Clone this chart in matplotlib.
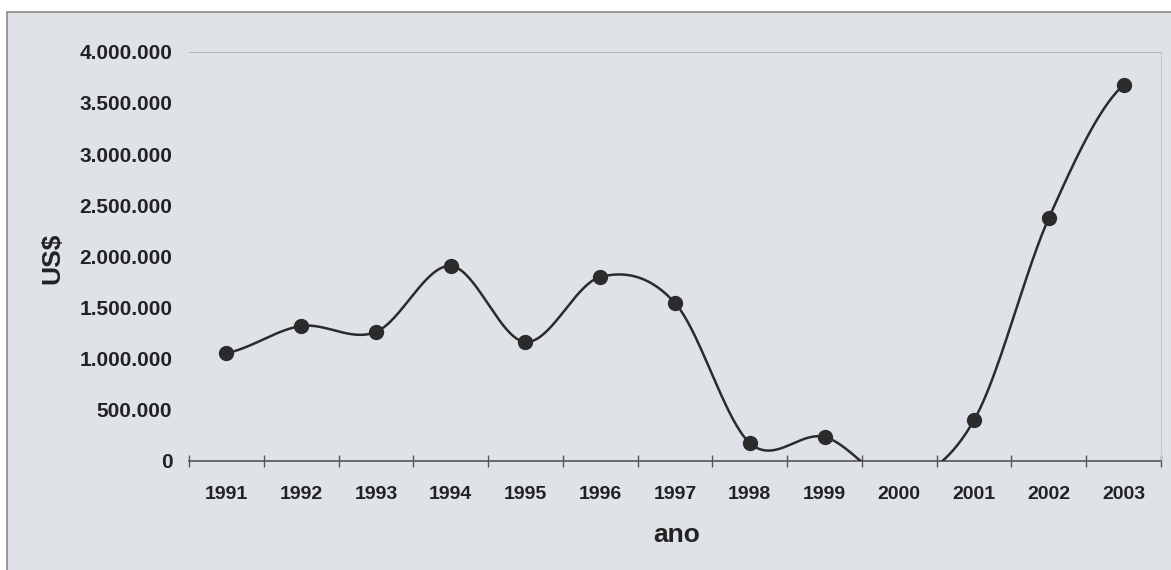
import numpy as np
import matplotlib
matplotlib.use('Agg')
import matplotlib.pyplot as plt
from matplotlib.patches import Rectangle
from matplotlib.ticker import FuncFormatter

years = ['1991', '1992', '1993', '1994', '1995', '1996', '1997',
         '1998', '1999', '2000', '2001', '2002', '2003']
values = [1055000, 1319000, 1261000, 1906000, 1163000, 1798000, 1544000,
          176000, 235000, -190000, 400000, 2375000, 3675000]
y_ticks = [0, 500000, 1000000, 1500000, 2000000, 2500000, 3000000, 3500000, 4000000]

bg = '#dfe3e8'
ink = '#2b2b2b'

plt.rcParams['font.family'] = ['Liberation Sans', 'DejaVu Sans']
plt.rcParams['font.weight'] = 'bold'


def smooth(y, n=40):
    # catmull-rom curve through the points, like the office "smoothed line"
    p = np.concatenate([[y[0]], y, [y[-1]]])
    xs, ys = [], []
    for i in range(len(y) - 1):
        p0, p1, p2, p3 = p[i], p[i + 1], p[i + 2], p[i + 3]
        t = np.linspace(0, 1, n, endpoint=False)
        seg = 0.5 * (2 * p1 + (-p0 + p2) * t
                     + (2 * p0 - 5 * p1 + 4 * p2 - p3) * t ** 2
                     + (-p0 + 3 * p1 - 3 * p2 + p3) * t ** 3)
        xs.append(i + t)
        ys.append(seg)
    xs.append([len(y) - 1])
    ys.append([y[-1]])
    return np.concatenate(xs), np.concatenate(ys)


fig = plt.figure(figsize=(11.71, 5.70), dpi=100)
fig.patch.set_facecolor('white')
fig.patches.append(Rectangle((7 / 1171, -0.05), 1.1, 1 - 12 / 570 + 0.05,
                             transform=fig.transFigure, facecolor=bg,
                             edgecolor='#8a8a8a', linewidth=1.2, zorder=-5))

ax = fig.add_axes([189 / 1171, 1 - 461 / 570, (1161 - 189) / 1171, (461 - 51.7) / 570])
ax.set_zorder(2)
ax.set_facecolor('none')

x = np.arange(len(years))
sx, sy = smooth(np.array(values, dtype=float))
ax.plot(sx, sy, color=ink, lw=1.8, zorder=3)
ax.plot(x, values, 'o', color=ink, markersize=10, zorder=4)

ax.set_xlim(-0.5, len(years) - 0.5)
ax.set_ylim(0, 4000000)

ax.set_xticks(np.arange(len(years) + 1) - 0.5)
ax.set_xticklabels([])
ax.set_xticks(x, minor=True)
ax.set_xticklabels(years, minor=True, fontsize=14, fontweight='bold', color='#222222')
ax.tick_params(axis='x', which='major', direction='inout', length=8, width=1, color='#555555')
ax.tick_params(axis='x', which='minor', length=0, pad=18)

ax.set_yticks(y_ticks)
ax.yaxis.set_major_formatter(FuncFormatter(lambda v, p: f'{int(v):,}'.replace(',', '.')))
ax.tick_params(axis='y', length=0, pad=12, labelsize=15, labelcolor='#222222')
for lab in ax.get_yticklabels():
    lab.set_fontweight('bold')

ax.spines['left'].set_visible(False)
ax.spines['top'].set_color('#b8bcc0')
ax.spines['top'].set_linewidth(0.8)
ax.spines['right'].set_color('#c4c8cc')
ax.spines['right'].set_linewidth(0.8)
ax.spines['bottom'].set_color('#555555')
ax.spines['bottom'].set_linewidth(1.2)

fig.text(677 / 1171, 1 - 535 / 570, 'ano', ha='center', va='center',
         fontsize=19, fontweight='bold', color='#222222')
fig.text(52 / 1171, 1 - 258 / 570, 'US$', ha='center', va='center', rotation=90,
         fontsize=19, fontweight='bold', color='#222222')

fig.savefig('out.png', dpi=100)
